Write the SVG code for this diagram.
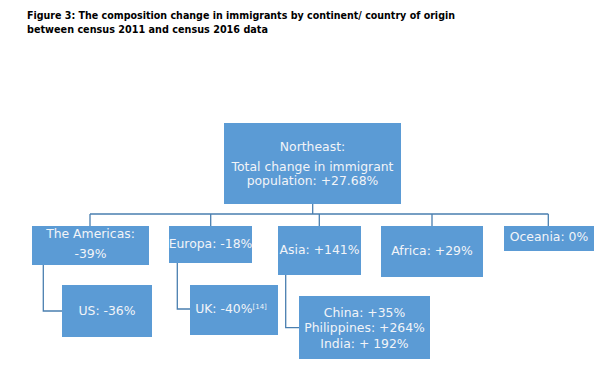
<svg xmlns="http://www.w3.org/2000/svg" width="608" height="392" viewBox="0 0 608 392">
<style>
.title{font-family:"DejaVu Sans","Liberation Sans",sans-serif;font-weight:bold;font-size:11px;fill:#000}
.box{fill:#5b9bd5}
.t{font-family:"DejaVu Sans","Liberation Sans",sans-serif;font-size:12.4px;fill:#f2f4f8;text-anchor:middle}
.c{fill:none;stroke:#4a7fb0;stroke-width:1.3}
</style>
<rect width="608" height="392" fill="#fff"/>
<text class="title" x="27" y="19" textLength="428" lengthAdjust="spacingAndGlyphs">Figure 3: The composition change in immigrants by continent/ country of origin</text>
<text class="title" x="27" y="33" textLength="241" lengthAdjust="spacingAndGlyphs">between census 2011 and census 2016 data</text>
<g id="connectors">
<path class="c" d="M312.7 204V214M90 214H548.3M90 214V226M210.7 214V226M319.3 214V226M432 214V226M548.3 214V226"/>
<path class="c" d="M43.3 264.7V311H62M177.3 263V309H190M285.7 274.7V327.7H299"/>
</g>
<g id="northeast"><rect class="box" x="224" y="123" width="177" height="81"/>
<text class="t" x="312.5" y="151">Northeast:</text>
<text class="t" x="312.5" y="171">Total change in immigrant</text>
<text class="t" x="312.5" y="184.5">population: +27.68%</text></g>
<g id="americas"><rect class="box" x="32" y="226" width="117" height="39"/>
<text class="t" x="90.5" y="238">The Americas:</text>
<text class="t" x="90.5" y="258">-39%</text></g>
<g id="europa"><rect class="box" x="169" y="226" width="83" height="37"/>
<text class="t" x="210.5" y="248">Europa: -18%</text></g>
<g id="asia"><rect class="box" x="278" y="226" width="83" height="49"/>
<text class="t" x="319.5" y="254">Asia: +141%</text></g>
<g id="africa"><rect class="box" x="381" y="226" width="102" height="51"/>
<text class="t" x="432" y="255">Africa: +29%</text></g>
<g id="oceania"><rect class="box" x="504" y="226" width="90" height="25"/>
<text class="t" x="549" y="241">Oceania: 0%</text></g>
<g id="us"><rect class="box" x="62" y="285" width="90" height="52"/>
<text class="t" x="107" y="315">US: -36%</text></g>
<g id="uk"><rect class="box" x="190" y="285" width="88" height="50"/>
<text class="t" x="231" y="313">UK: -40%<tspan font-size="7" dy="-4">[14]</tspan></text></g>
<g id="asia-countries"><rect class="box" x="299" y="296" width="131" height="63"/>
<text class="t" x="364.5" y="316.7">China: +35%</text>
<text class="t" x="364.5" y="331.7">Philippines: +264%</text>
<text class="t" x="364.5" y="347.7">India: + 192%</text></g>
</svg>
